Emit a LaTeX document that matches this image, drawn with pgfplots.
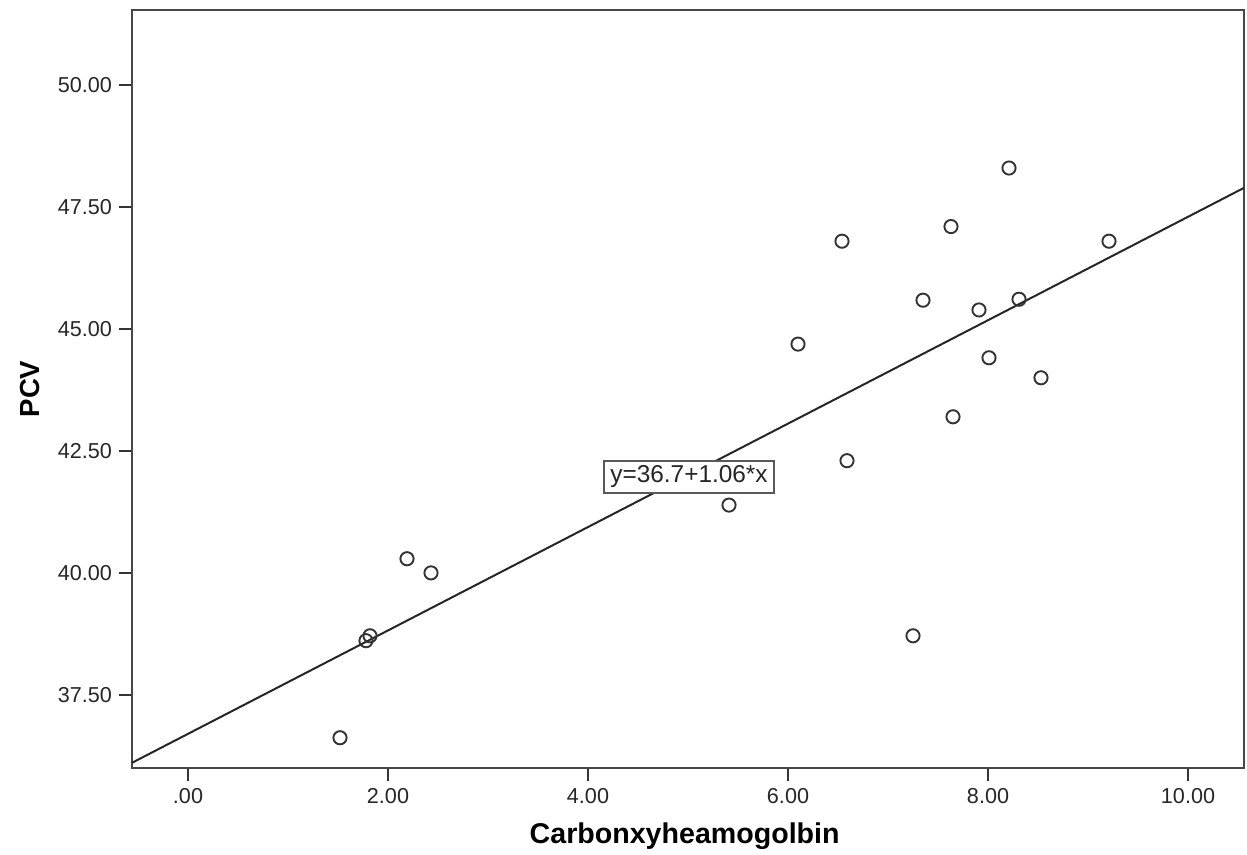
\documentclass[border=0pt]{standalone}
\usepackage{pgfplots}
\pgfplotsset{compat=1.18}
\usepackage{fontspec}
\setmainfont{Liberation Sans}
\begin{document}
\begin{tikzpicture}
\begin{axis}[
  at={(0,0)}, anchor=south west,
  scale only axis,
  width=556pt, height=379pt,
  xmin=-0.56, xmax=10.56,
  ymin=36.0, ymax=51.54,
  xtick={0,2,4,6,8,10},
  xticklabels={.00,2.00,4.00,6.00,8.00,10.00},
  ytick={37.5,40,42.5,45,47.5,50},
  yticklabels={37.50,40.00,42.50,45.00,47.50,50.00},
  xtick pos=bottom, ytick pos=left,
  tick align=outside,
  major tick length=6.5pt,
  tick style={black!80, line width=0.9pt},
  axis line style={black!72, line width=1pt},
  ticklabel style={font=\fontsize{10.8}{12}\selectfont, text=black!85},
  xlabel={Carbonxyheamogolbin},
  ylabel={PCV},
  xlabel style={font=\bfseries\fontsize{14.3}{16}\selectfont, at={(axis description cs:0.497,-0.0897)}, anchor=center},
  ylabel style={font=\bfseries\fontsize{13.8}{15}\selectfont, at={(axis description cs:-0.0917,0.5)}, anchor=center},
  clip=true,
]
\addplot[black!85, line width=1pt] coordinates {(-0.56,36.1064) (10.56,47.8936)};
\addplot[only marks, mark=o, mark size=3.3pt, mark options={line width=0.95pt, draw=black!80}] coordinates {
(1.52,36.62) (1.78,38.61) (1.82,38.71) (2.19,40.29) (2.43,40.00)
(5.41,41.39) (6.10,44.69) (6.54,46.80) (6.59,42.30) (7.25,38.71)
(7.35,45.59) (7.63,47.10) (7.65,43.20) (7.91,45.39) (8.01,44.41)
(8.21,48.30) (8.31,45.61) (8.53,44.00) (9.21,46.80)
};
\node[draw=black!65, fill=white, line width=1pt, inner xsep=3pt, inner ysep=2.6pt,
  font=\fontsize{12.2}{13}\selectfont, text=black!85] at (axis cs:5.01,41.97) {y=36.7+1.06*x};
\end{axis}
\pgfresetboundingbox
\path (-66pt,-43.5pt) rectangle (557.5pt,384pt);
\end{tikzpicture}
\end{document}
